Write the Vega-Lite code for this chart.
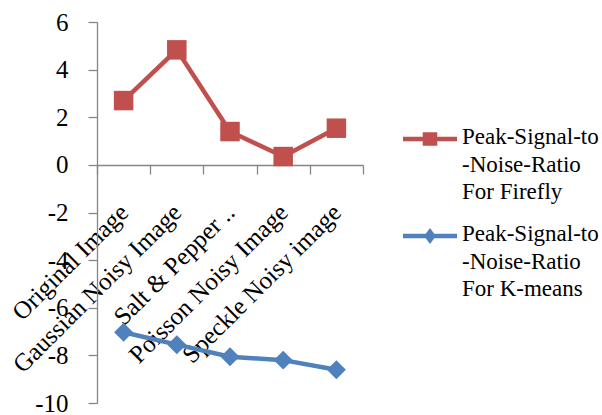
{
  "$schema": "https://vega.github.io/schema/vega-lite/v6.json",
  "width": 266,
  "height": 381,
  "autosize": {"type": "none"},
  "padding": {"left": 97, "top": 22, "right": 239, "bottom": 12},
  "background": "white",
  "config": {
    "view": {"stroke": null},
    "font": "Times New Roman, Liberation Serif, serif"
  },
  "data": {
    "values": [
      {"image": "Original Image", "series": "Peak-Signal-to-Noise-Ratio For Firefly", "psnr": 2.7},
      {"image": "Gaussian Noisy Image", "series": "Peak-Signal-to-Noise-Ratio For Firefly", "psnr": 4.83},
      {"image": "Salt & Pepper Noisy Image", "series": "Peak-Signal-to-Noise-Ratio For Firefly", "psnr": 1.4},
      {"image": "Poisson Noisy Image", "series": "Peak-Signal-to-Noise-Ratio For Firefly", "psnr": 0.35},
      {"image": "Speckle Noisy image", "series": "Peak-Signal-to-Noise-Ratio For Firefly", "psnr": 1.54},
      {"image": "Original Image", "series": "Peak-Signal-to-Noise-Ratio For K-means", "psnr": -7.03},
      {"image": "Gaussian Noisy Image", "series": "Peak-Signal-to-Noise-Ratio For K-means", "psnr": -7.55},
      {"image": "Salt & Pepper Noisy Image", "series": "Peak-Signal-to-Noise-Ratio For K-means", "psnr": -8.06},
      {"image": "Poisson Noisy Image", "series": "Peak-Signal-to-Noise-Ratio For K-means", "psnr": -8.2},
      {"image": "Speckle Noisy image", "series": "Peak-Signal-to-Noise-Ratio For K-means", "psnr": -8.6}
    ]
  },
  "encoding": {
    "x": {
      "field": "image",
      "type": "nominal",
      "sort": null,
      "scale": {"type": "band", "paddingInner": 0, "paddingOuter": 0},
      "axis": {
        "title": null,
        "orient": "bottom",
        "offset": -238,
        "labelAngle": -45,
        "labelAlign": "right",
        "labelBaseline": "middle",
        "labelFont": "Times New Roman, Liberation Serif, serif",
        "labelFontSize": 25,
        "labelColor": "black",
        "labelPadding": 34,
        "labelLimit": 400,
        "labelExpr": "datum.value == 'Salt & Pepper Noisy Image' ? 'Salt & Pepper ..' : datum.label",
        "tickBand": "extent",
        "tickSize": 9,
        "tickColor": "#868686",
        "domainColor": "#868686",
        "domainWidth": 1.3,
        "tickWidth": 1.3
      }
    },
    "y": {
      "field": "psnr",
      "type": "quantitative",
      "scale": {"domain": [-10, 6], "nice": false, "zero": false},
      "axis": {
        "title": null,
        "values": [-10, -8, -6, -4, -2, 0, 2, 4, 6],
        "labelExpr": "'' + datum.value",
        "grid": false,
        "tickSize": 9,
        "labelPadding": 20,
        "labelFont": "Times New Roman, Liberation Serif, serif",
        "labelFontSize": 25,
        "labelColor": "black",
        "labelFlush": false,
        "labelOverlap": false,
        "tickColor": "#868686",
        "domainColor": "#868686",
        "domainWidth": 1.3,
        "tickWidth": 1.3
      }
    },
    "color": {
      "field": "series",
      "type": "nominal",
      "scale": {
        "domain": ["Peak-Signal-to-Noise-Ratio For Firefly", "Peak-Signal-to-Noise-Ratio For K-means"],
        "range": ["#C0504D", "#4F81BD"]
      },
      "legend": {
        "orient": "none",
        "legendX": 306,
        "legendY": 90,
        "title": null,
        "padding": 0,
        "symbolType": "square",
        "symbolSize": 2916,
        "symbolStrokeWidth": 0,
        "symbolOpacity": 1,
        "labelFont": "Times New Roman, Liberation Serif, serif",
        "labelFontSize": 23,
        "labelColor": "black",
        "labelOffset": 5,
        "labelLimit": 400,
        "labelBaseline": "top",
        "rowPadding": 5,
        "labelExpr": "datum.label == 'Peak-Signal-to-Noise-Ratio For Firefly' ? ['Peak-Signal-to', '-Noise-Ratio', 'For Firefly'] : ['Peak-Signal-to', '-Noise-Ratio', 'For K-means']",
        "encode": {
          "symbols": {
            "update": {
              "shape": {"signal": "datum.value == 'Peak-Signal-to-Noise-Ratio For Firefly' ? 'M-1,-0.085H1V0.085H-1Z M-0.27,-0.25H0.27V0.25H-0.27Z' : 'M-1,-0.085H1V0.085H-1Z M0,-0.3L0.22,0L0,0.3L-0.22,0Z'"}
            }
          },
          "labels": {
            "update": {
              "lineHeight": {"value": 27.5},
              "dy": {"value": -13}
            }
          }
        }
      }
    }
  },
  "layer": [
    {
      "mark": {"type": "line", "strokeWidth": 4.5}
    },
    {
      "transform": [{"filter": "datum.series == 'Peak-Signal-to-Noise-Ratio For Firefly'"}],
      "mark": {"type": "point", "shape": "square", "filled": true, "opacity": 1, "size": 380}
    },
    {
      "transform": [{"filter": "datum.series == 'Peak-Signal-to-Noise-Ratio For K-means'"}],
      "mark": {"type": "point", "shape": "diamond", "filled": true, "opacity": 1, "size": 360}
    }
  ]
}
